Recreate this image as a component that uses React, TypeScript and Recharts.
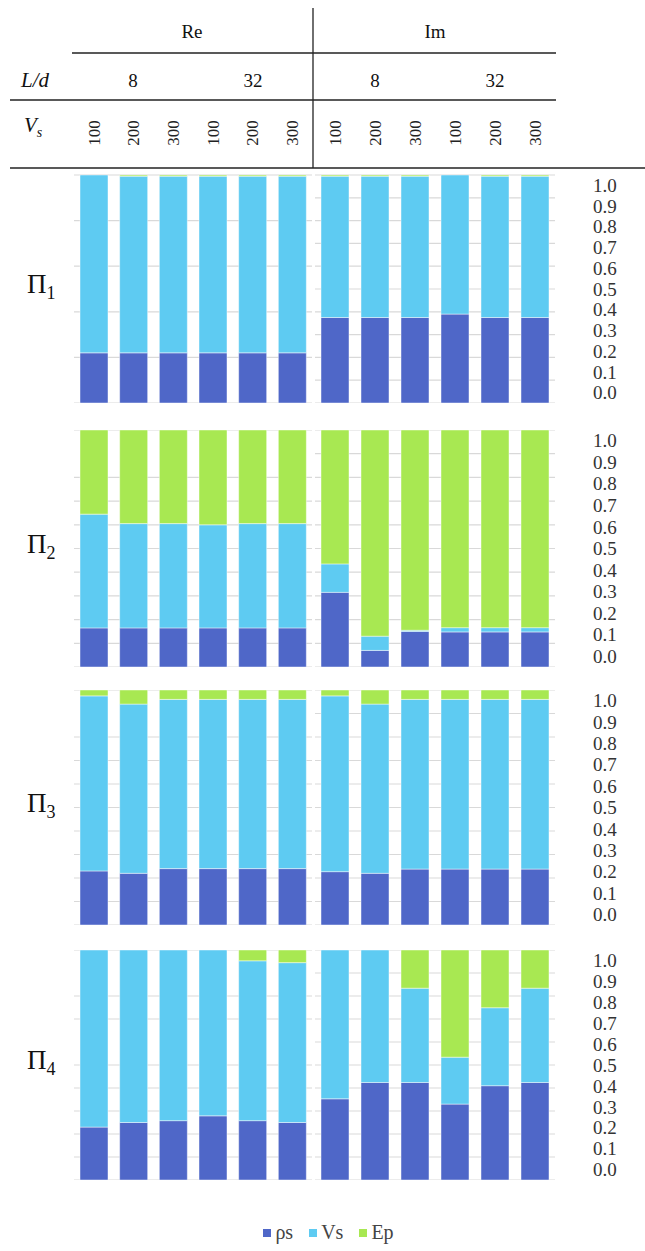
import React from 'react';
import { BarChart, Bar, XAxis, YAxis, CartesianGrid } from 'recharts';

const SERIF = "'Liberation Serif', 'DejaVu Serif', serif";

const VS_LABELS = ['100', '200', '300', '100', '200', '300'];
const LD_LABELS = ['8', '32'];
const PART_LABELS = ['Re', 'Im'];
const PANEL_LABELS = ['1', '2', '3', '4'];
const Y_TICKS = [0, 0.1, 0.2, 0.3, 0.4, 0.5, 0.6, 0.7, 0.8, 0.9, 1.0];

const SERIES = [
  { key: 'rho', name: 'ρs', color: '#4f67c8' },
  { key: 'v', name: 'Vs', color: '#5ecbf2' },
  { key: 'ep', name: 'Ep', color: '#a8e852' },
];

// Π1
const PI1_RE_RHO = [0.22, 0.22, 0.22, 0.22, 0.22, 0.22];
const PI1_RE_VS = [0.78, 0.775, 0.775, 0.775, 0.775, 0.775];
const PI1_RE_EP = [0, 0.005, 0.005, 0.005, 0.005, 0.005];
const PI1_IM_RHO = [0.375, 0.375, 0.375, 0.39, 0.375, 0.375];
const PI1_IM_VS = [0.62, 0.62, 0.62, 0.61, 0.62, 0.62];
const PI1_IM_EP = [0.005, 0.005, 0.005, 0, 0.005, 0.005];

// Π2
const PI2_RE_RHO = [0.165, 0.165, 0.165, 0.165, 0.165, 0.165];
const PI2_RE_VS = [0.48, 0.44, 0.44, 0.435, 0.44, 0.44];
const PI2_RE_EP = [0.355, 0.395, 0.395, 0.4, 0.395, 0.395];
const PI2_IM_RHO = [0.315, 0.07, 0.15, 0.148, 0.148, 0.148];
const PI2_IM_VS = [0.12, 0.06, 0.005, 0.018, 0.018, 0.018];
const PI2_IM_EP = [0.565, 0.87, 0.845, 0.834, 0.834, 0.834];

// Π3
const PI3_RE_RHO = [0.23, 0.22, 0.24, 0.24, 0.24, 0.24];
const PI3_RE_VS = [0.745, 0.72, 0.72, 0.72, 0.72, 0.72];
const PI3_RE_EP = [0.025, 0.06, 0.04, 0.04, 0.04, 0.04];
const PI3_IM_RHO = [0.227, 0.22, 0.238, 0.238, 0.238, 0.238];
const PI3_IM_VS = [0.748, 0.72, 0.722, 0.722, 0.722, 0.722];
const PI3_IM_EP = [0.025, 0.06, 0.04, 0.04, 0.04, 0.04];

// Π4
const PI4_RE_RHO = [0.23, 0.25, 0.258, 0.279, 0.258, 0.25];
const PI4_RE_VS = [0.77, 0.75, 0.742, 0.721, 0.695, 0.695];
const PI4_RE_EP = [0, 0, 0, 0, 0.047, 0.055];
const PI4_IM_RHO = [0.353, 0.424, 0.424, 0.33, 0.41, 0.424];
const PI4_IM_VS = [0.647, 0.576, 0.41, 0.204, 0.339, 0.41];
const PI4_IM_EP = [0, 0, 0.166, 0.466, 0.251, 0.166];

const build = (rho: number[], v: number[], ep: number[]) =>
  VS_LABELS.map((vs, i) => ({ vs, rho: rho[i], v: v[i], ep: ep[i] }));

const PANELS = [
  { re: build(PI1_RE_RHO, PI1_RE_VS, PI1_RE_EP), im: build(PI1_IM_RHO, PI1_IM_VS, PI1_IM_EP) },
  { re: build(PI2_RE_RHO, PI2_RE_VS, PI2_RE_EP), im: build(PI2_IM_RHO, PI2_IM_VS, PI2_IM_EP) },
  { re: build(PI3_RE_RHO, PI3_RE_VS, PI3_RE_EP), im: build(PI3_IM_RHO, PI3_IM_VS, PI3_IM_EP) },
  { re: build(PI4_RE_RHO, PI4_RE_VS, PI4_RE_EP), im: build(PI4_IM_RHO, PI4_IM_VS, PI4_IM_EP) },
];

// layout
const PANEL_TOP = [175, 430, 690, 950];
const PANEL_H = [228, 237, 235, 230];
const LEFT_X = 74;
const LEFT_W = 238;
const RIGHT_X = 315;
const RIGHT_W = 240;
const AXIS_W = 85;
const HEAD_H = 70;

const VsTick = (props: any) => {
  const { x, y, payload } = props;
  return (
    <text
      transform={`translate(${x},${y - 42}) rotate(-90)`}
      textAnchor="middle"
      dy="0.35em"
      fontSize={17}
      fill="#222"
      style={{ fontFamily: SERIF }}
    >
      {payload.value}
    </text>
  );
};

// labels sit a little tighter than the grid in the original
const makeYTick = (midY: number) => (props: any) => {
  const { x, y, payload } = props;
  const yy = midY + (y - midY) * 0.91;
  return (
    <text x={x} y={yy} dy="0.35em" textAnchor="start" fontSize={19} fill="#333" style={{ fontFamily: SERIF }}>
      {Number(payload.value).toFixed(1)}
    </text>
  );
};

function Stack({ data, width, height, first, yAxisRight }: any) {
  const axisH = first ? HEAD_H : 0;
  return (
    <BarChart
      width={width}
      height={height + axisH}
      data={data}
      margin={{ top: 0, right: 0, bottom: 0, left: 0 }}
      barSize={28}
    >
      <CartesianGrid vertical={false} stroke="#d9d9d9" strokeWidth={1.2} />
      {first ? (
        <XAxis
          dataKey="vs"
          orientation="top"
          height={HEAD_H}
          interval={0}
          axisLine={false}
          tickLine={false}
          tickSize={0}
          tickMargin={0}
          tick={VsTick}
        />
      ) : (
        <XAxis dataKey="vs" hide />
      )}
      {yAxisRight ? (
        <YAxis
          orientation="right"
          width={AXIS_W}
          domain={[0, 1]}
          allowDataOverflow
          ticks={Y_TICKS}
          interval={0}
          axisLine={false}
          tickLine={false}
          tickSize={0}
          tickMargin={38}
          tick={makeYTick(axisH + height / 2)}
        />
      ) : (
        <YAxis hide domain={[0, 1]} allowDataOverflow ticks={Y_TICKS} />
      )}
      {SERIES.map((s) => (
        <Bar
          key={s.key}
          dataKey={s.key}
          name={s.name}
          stackId="a"
          fill={s.color}
          stroke="#ffffff"
          strokeOpacity={0.45}
          strokeWidth={1}
          isAnimationActive={false}
        />
      ))}
    </BarChart>
  );
}

export default function App() {
  return (
    <div
      style={{
        position: 'absolute',
        left: 0,
        top: 0,
        width: 645,
        height: 1251,
        background: '#fff',
        fontFamily: SERIF,
        overflow: 'hidden',
      }}
    >
      <svg width={645} height={175} style={{ position: 'absolute', left: 0, top: 0, fontFamily: SERIF }}>
        <g stroke="#222" strokeWidth={1.3}>
          <line x1={313} y1={8} x2={313} y2={168} />
          <line x1={72} y1={53} x2={556} y2={53} />
          <line x1={10} y1={100} x2={556} y2={100} />
          <line x1={10} y1={168} x2={645} y2={168} />
        </g>
        <g fill="#111" fontSize={19} textAnchor="middle">
          <text x={192} y={38}>{PART_LABELS[0]}</text>
          <text x={435} y={38}>{PART_LABELS[1]}</text>
          <text x={133} y={87}>{LD_LABELS[0]}</text>
          <text x={253} y={87}>{LD_LABELS[1]}</text>
          <text x={375} y={87}>{LD_LABELS[0]}</text>
          <text x={495} y={87}>{LD_LABELS[1]}</text>
        </g>
        <text x={21} y={87} fontStyle="italic" fontSize={21} fill="#111">
          L/d
        </text>
        <text x={24} y={132} fontStyle="italic" fontSize={21} fill="#111">
          V
          <tspan fontSize={14} dy={5}>s</tspan>
        </text>
      </svg>

      {PANELS.map((p, i) => {
        const first = i === 0;
        const top = PANEL_TOP[i] - (first ? HEAD_H : 0);
        const h = PANEL_H[i];
        return (
          <React.Fragment key={i}>
            <div
              style={{
                position: 'absolute',
                left: 27,
                top: PANEL_TOP[i] + h / 2 - 20,
                fontSize: 27,
                color: '#111',
                lineHeight: '30px',
                whiteSpace: 'nowrap',
              }}
            >
              Π<span style={{ fontSize: 18, verticalAlign: -6 }}>{PANEL_LABELS[i]}</span>
            </div>
            <div style={{ position: 'absolute', left: LEFT_X, top }}>
              <Stack data={p.re} width={LEFT_W} height={h} first={first} />
            </div>
            <div style={{ position: 'absolute', left: RIGHT_X, top }}>
              <Stack data={p.im} width={RIGHT_W + AXIS_W} height={h} first={first} yAxisRight />
            </div>
          </React.Fragment>
        );
      })}

      <div
        style={{
          position: 'absolute',
          top: 1221,
          left: 6,
          width: 645,
          display: 'flex',
          justifyContent: 'center',
          alignItems: 'center',
          gap: 16,
          fontSize: 20,
          color: '#444',
        }}
      >
        {SERIES.map((s) => (
          <div key={s.key} style={{ display: 'flex', alignItems: 'center' }}>
            <span style={{ width: 8, height: 8, background: s.color, marginRight: 4, display: 'inline-block' }} />
            <span>{s.name}</span>
          </div>
        ))}
      </div>
    </div>
  );
}
